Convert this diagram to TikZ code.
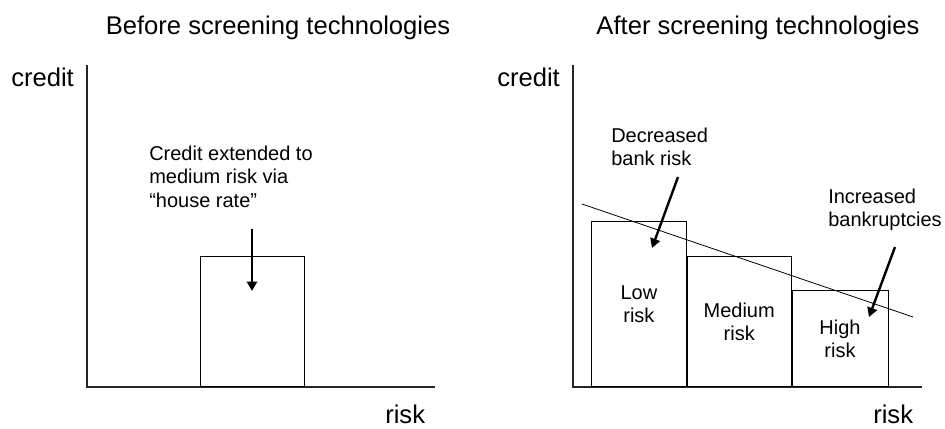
\documentclass[tikz,border=0pt]{standalone}
\usepackage{fontspec}
\setmainfont{Liberation Sans}
\usetikzlibrary{arrows.meta,positioning}
\begin{document}
\begin{tikzpicture}[x=0.75pt, y=-0.75pt,
	big/.style={font=\fontsize{19.2}{22}\selectfont, inner sep=0pt},
	note/.style={font=\fontsize{15}{17.6}\selectfont, align=left, inner sep=0pt, anchor=north west},
	bar/.style={draw, line width=0.6pt, font=\fontsize{15}{17.4}\selectfont, align=center, inner sep=0pt, anchor=south west},
	axis/.style={line width=0.9pt, black!85},
	pointer/.style={line width=1.8pt, -{Triangle[length=7pt,width=7.5pt]}}]
	\useasboundingbox (0,0) rectangle (945,428);
	
	% before
	\node[big, anchor=base] (titleA) at (278,35) {Before screening technologies};
	\draw[axis] (87,65) -- (87,387) -- (435,387);
	\node[big, anchor=base west] (creditA) at (11,86) {credit};
	\node[big, anchor=base west] (riskA) at (385,423) {risk};
	
	\node[bar, minimum width=78pt, minimum height=97.5pt] (house) at (200,387) {};
	\node[note] (houserate) at (149,145.6) {Credit extended to\\medium risk via\\“house rate”};
	\coordinate (housetail) at (252,229);
	\coordinate (housetip) at (252,291);
	\draw[pointer] (housetail) -- (housetip);
	
	% after
	\node[big, anchor=base] (titleB) at (758,35) {After screening technologies};
	\draw[axis] (573,65) -- (573,387) -- (922,387);
	\node[big, anchor=base west] (creditB) at (497,86) {credit};
	\node[big, anchor=base west] (riskB) at (873,423) {risk};
	
	\node[bar, minimum width=71.25pt, minimum height=123.75pt] (low) at (591,387) {Low\\risk};
	\node[bar, minimum width=78pt, minimum height=97.5pt] (medium) at (low.south east) {Medium\\risk};
	\node[bar, minimum width=72pt, minimum height=72pt] (high) at (medium.south east) {High\\risk};
	
	\draw[line width=0.6pt] (582,204) -- (913,317);
	
	\node[note] (bankrisk) at (611,127.6) {Decreased\\bank risk};
	\node[note] (bankrupt) at (828,188.6) {Increased\\bankruptcies};
	\coordinate (banktail) at (678,177);
	\coordinate (banktip) at (652,248);
	\coordinate (rupttail) at (895,247);
	\coordinate (rupttip) at (869,317);
	\draw[pointer] (banktail) -- (banktip);
	\draw[pointer] (rupttail) -- (rupttip);
	
\end{tikzpicture}
\end{document}
